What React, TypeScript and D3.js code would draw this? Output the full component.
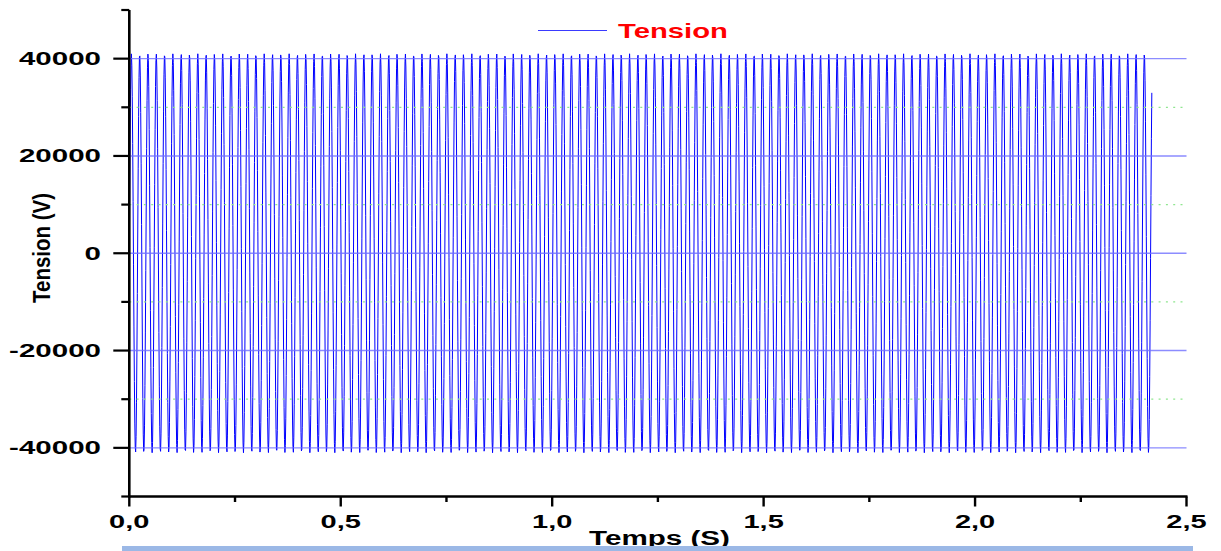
import React from "react";
import * as d3 from "d3";

// ---- data ----
const seriesName = "Tension";
const xTicks = [0, 0.5, 1.0, 1.5, 2.0, 2.5];
const xTickLabels = ["0,0", "0,5", "1,0", "1,5", "2,0", "2,5"];
const xMinorTicks = [0.25, 0.75, 1.25, 1.75, 2.25];
const yTicks = [-40000, -20000, 0, 20000, 40000];
const yTickLabels = ["-40000", "-20000", "0", "20000", "40000"];
const yMinorTicks = [-50000, -30000, -10000, 10000, 30000, 50000];
const xTitle = "Temps (S)";
const yTitle = "Tension (V)";

// signal parameters (peak ~41 kV, 123 cycles up to ~2.418 s,
// recorded with a coarse time step that gives the kinked, moiré look)
const amplitudeV = 41000;
const frequencyHz = 50.93;
const endTimeS = 2.418;
const sampleStepS = 0.001;

const times = d3.range(0, endTimeS + 1e-9, sampleStepS);
const tension = times.map((t) => amplitudeV * Math.sin(2 * Math.PI * frequencyHz * t));

export default function App() {
  const W = 1221;
  const H = 551;
  const x = d3.scaleLinear().domain([0, 2.5]).range([129.3, 1186.5]);
  const y = d3.scaleLinear().domain([-50000, 50000]).range([496.5, 10]);

  const line = d3
    .line<number>()
    .x((_, i) => x(times[i]))
    .y((d) => y(d));

  const x0 = x(0);
  const x1 = x(2.5);
  const yBottom = y(-50000);
  const yTop = y(50000);
  const font = "'Liberation Sans', Arial, sans-serif";

  return (
    <svg
      width={W}
      height={H}
      style={{ position: "absolute", left: 0, top: 0, background: "#fff" }}
      fontFamily={font}
    >
      <rect x={0} y={0} width={W} height={H} fill="#fff" />

      {/* signal */}
      <path d={line(tension) || ""} fill="none" stroke="#0000ff" strokeWidth={1} />

      {/* minor dotted gridlines */}
      {yMinorTicks
        .filter((v) => Math.abs(v) < 50000)
        .map((v) => (
          <line
            key={"mg" + v}
            x1={x0}
            x2={x1}
            y1={y(v)}
            y2={y(v)}
            stroke="#8fe68f"
            strokeWidth={1.3}
            strokeDasharray="2,5.3"
          />
        ))}
      {/* major gridlines */}
      {yTicks.map((v) => (
        <line
          key={"g" + v}
          x1={x0}
          x2={x1}
          y1={y(v)}
          y2={y(v)}
          stroke="#6f6fff"
          strokeOpacity={0.8}
          strokeWidth={1.4}
        />
      ))}

      {/* axes */}
      <line x1={x0} x2={x0} y1={yTop} y2={yBottom + 1} stroke="#000" strokeWidth={2.6} />
      <line x1={x0 - 1} x2={x1 + 1} y1={yBottom} y2={yBottom} stroke="#000" strokeWidth={2.6} />

      {/* y ticks */}
      {yTicks.map((v) => (
        <line key={"yt" + v} x1={x0 - 16} x2={x0} y1={y(v)} y2={y(v)} stroke="#000" strokeWidth={2.2} />
      ))}
      {yMinorTicks.map((v) => (
        <line key={"ym" + v} x1={x0 - 8} x2={x0} y1={y(v)} y2={y(v)} stroke="#000" strokeWidth={2.2} />
      ))}
      {yTicks.map((v, i) => (
        <text
          key={"yl" + v}
          transform={`translate(101,${y(v) + 6.5}) scale(1.64,1)`}
          textAnchor="end"
          fontSize={18}
          fontWeight="bold"
          fill="#000"
        >
          {yTickLabels[i]}
        </text>
      ))}

      {/* x ticks */}
      {xTicks.map((v) => (
        <line key={"xt" + v} x1={x(v)} x2={x(v)} y1={yBottom} y2={yBottom + 10} stroke="#000" strokeWidth={2.4} />
      ))}
      {xMinorTicks.map((v) => (
        <line key={"xm" + v} x1={x(v)} x2={x(v)} y1={yBottom} y2={yBottom + 5.5} stroke="#000" strokeWidth={2.4} />
      ))}
      {xTicks.map((v, i) => (
        <text
          key={"xl" + v}
          transform={`translate(${x(v)},527.5) scale(1.66,1)`}
          textAnchor="middle"
          fontSize={17.5}
          fontWeight="bold"
          fill="#000"
        >
          {xTickLabels[i]}
        </text>
      ))}

      {/* axis titles */}
      <text
        transform="translate(659.5,544.5) scale(1.48,1)"
        textAnchor="middle"
        fontSize={20}
        fontWeight="bold"
        fill="#000"
      >
        {xTitle}
      </text>
      <text
        transform="translate(50,248) scale(1.25,1) rotate(-90)"
        textAnchor="middle"
        fontSize={19}
        fontWeight="bold"
        fill="#000"
        textLength={110}
        lengthAdjust="spacingAndGlyphs"
      >
        {yTitle}
      </text>

      {/* legend */}
      <line x1={538} x2={607} y1={30.5} y2={30.5} stroke="#3a3aff" strokeWidth={1} />
      <text
        transform="translate(618,37.5) scale(1.5,1)"
        fontSize={19.5}
        fontWeight="bold"
        fill="#ff0000"
      >
        {seriesName}
      </text>

      {/* bottom light-blue band */}
      <rect x={122} y={546} width={1071} height={5} fill="#9bb8e6" />
    </svg>
  );
}
